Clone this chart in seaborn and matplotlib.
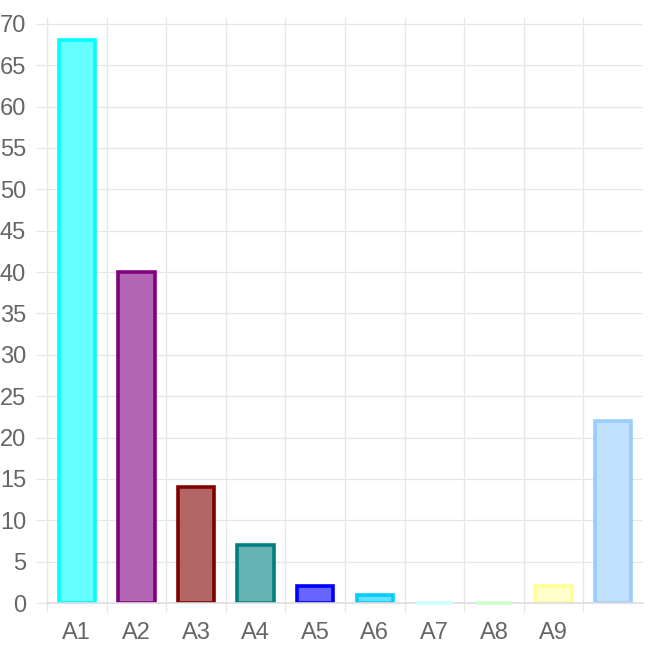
import matplotlib
matplotlib.use("Agg")
import matplotlib.pyplot as plt
import seaborn as sns

# chart data
categories = ["A1", "A2", "A3", "A4", "A5", "A6", "A7", "A8", "A9", "A10"]
tick_labels = ["A1", "A2", "A3", "A4", "A5", "A6", "A7", "A8", "A9", ""]
values = [68, 40, 14, 7, 2, 1, 0, 0, 2, 22]
edge_colors = ["#00FFFF", "#800080", "#800000", "#008080", "#0000FF",
               "#00CCFF", "#CCFFFF", "#CCFFCC", "#FFFF99", "#99CCFF"]
fill_colors = ["#66FFFF", "#B366B3", "#B36666", "#66B3B3", "#6666FF",
               "#66E0FF", "#E0FFFF", "#E0FFE0", "#FFFFCC", "#C2E0FF"]

sns.set_theme(style="white")
plt.rcParams["font.family"] = ["Liberation Sans", "DejaVu Sans"]

grid_col = "#E6E6E6"
text_col = "#666666"

fig = plt.figure(figsize=(6.48, 6.48), dpi=100)
ax = fig.add_axes([47 / 648, 45 / 648, 596 / 648, 585 / 648])

sns.barplot(x=categories, y=values, hue=categories, palette=fill_colors,
            width=0.61, legend=False, ax=ax, saturation=1)
for patch, ec, v in zip(ax.patches, edge_colors, values):
    patch.set_edgecolor(ec)
    patch.set_linewidth(2.6)
    if v == 0:
        # empty bars still show their border as a thin band on the axis
        patch.set_clip_on(False)
        patch.set_zorder(3)

ax.set_xlim(-0.5, 9.5)
ax.set_ylim(0, 70.7)
ax.set_yticks(range(0, 71, 5))
ax.set_xticks(range(len(categories)))
ax.set_xticklabels(tick_labels)
ax.set_xticks([i - 0.5 for i in range(len(categories))], minor=True)

ax.set_axisbelow(True)
ax.grid(axis="y", which="major", color=grid_col, linewidth=0.9)
ax.grid(axis="x", which="minor", color=grid_col, linewidth=0.9)
ax.grid(axis="x", which="major", visible=False)

ax.tick_params(axis="x", which="major", length=0, pad=14, labelsize=17, labelcolor=text_col)
ax.tick_params(axis="x", which="minor", length=6.5, width=0.9, color=grid_col, bottom=True)
ax.tick_params(axis="y", which="major", length=8, width=0.9, color=grid_col, pad=7,
               labelsize=17, labelcolor=text_col, left=True)

for side in ["top", "right"]:
    ax.spines[side].set_visible(False)
ax.spines["left"].set_color(grid_col)
ax.spines["bottom"].set_color("#DDDDDD")
ax.spines["left"].set_linewidth(0.9)
ax.spines["bottom"].set_linewidth(1.2)

ax.set_xlabel("")
ax.set_ylabel("")

fig.savefig("out.png", dpi=100)
